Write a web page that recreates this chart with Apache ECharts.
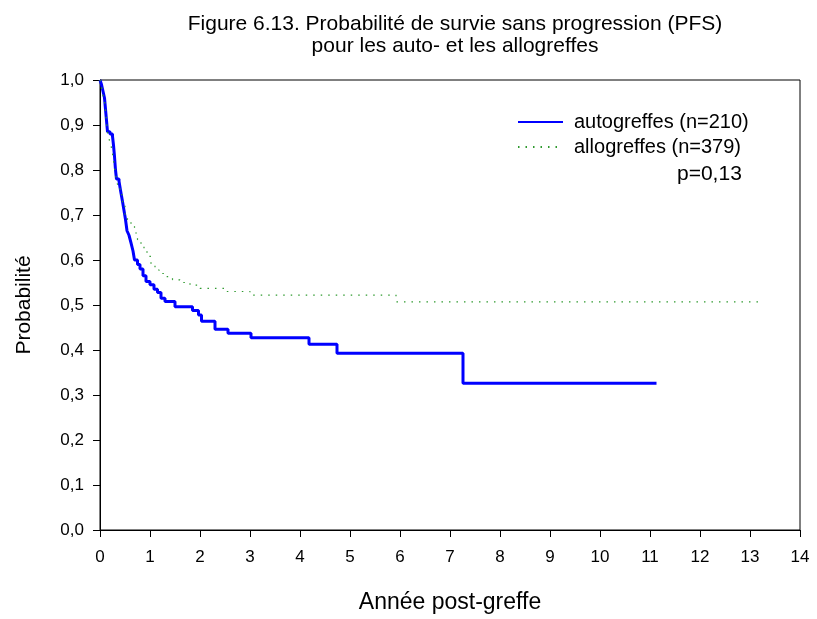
<!DOCTYPE html>
<html>
<head>
<meta charset="utf-8">
<script src="https://cdn.jsdelivr.net/npm/echarts@6/dist/echarts.min.js"></script>
<style>
  html, body { margin: 0; padding: 0; background: #fff; }
  #chart { width: 817px; height: 619px; }
</style>
</head>
<body>
<div id="chart"></div>
<script>
// Kaplan-Meier estimates: [years post-transplant, survival probability]
const autoCurve = [
  [0, 1.0], [0.03, 0.99], [0.06, 0.975], [0.09, 0.96], [0.11, 0.935], [0.13, 0.91],
  [0.15, 0.885], [0.2, 0.88], [0.25, 0.875], [0.27, 0.855], [0.29, 0.83], [0.31, 0.80],
  [0.33, 0.78], [0.38, 0.775], [0.41, 0.755], [0.45, 0.73], [0.48, 0.71], [0.51, 0.69],
  [0.54, 0.665], [0.58, 0.655], [0.62, 0.638], [0.66, 0.62], [0.69, 0.60], [0.75, 0.59],
  [0.8, 0.58], [0.86, 0.565], [0.92, 0.552], [1.0, 0.545], [1.08, 0.535], [1.15, 0.528],
  [1.22, 0.515], [1.3, 0.508], [1.5, 0.496], [1.85, 0.488], [1.97, 0.478], [2.03, 0.464],
  [2.3, 0.446], [2.56, 0.437], [3.02, 0.427], [4.18, 0.413], [4.74, 0.393],
  [7.26, 0.326], [11.13, 0.326]
];
const alloCurve = [
  [0, 1.0], [0.03, 0.985], [0.06, 0.965], [0.09, 0.955], [0.12, 0.92], [0.15, 0.885],
  [0.19, 0.865], [0.22, 0.855], [0.26, 0.83], [0.29, 0.805], [0.32, 0.785], [0.35, 0.768],
  [0.4, 0.745], [0.45, 0.72], [0.5, 0.70], [0.55, 0.69], [0.62, 0.675], [0.69, 0.66],
  [0.75, 0.645], [0.82, 0.632], [0.88, 0.62], [0.94, 0.608], [1.02, 0.59], [1.1, 0.578],
  [1.18, 0.57], [1.3, 0.563], [1.45, 0.556], [1.6, 0.55], [1.8, 0.544], [2.0, 0.537],
  [2.5, 0.53], [3.0, 0.522], [5.92, 0.507], [13.24, 0.507]
];
const seriesNames = ['autogreffes (n=210)', 'allogreffes (n=379)'];
const pValueText = 'p=0,13';
const titleLines = ['Figure 6.13. Probabilité de survie sans progression (PFS)', 'pour les auto- et les allogreffes'];

const FONT = '"Liberation Sans", Arial, sans-serif';
const chart = echarts.init(document.getElementById('chart'), null, { renderer: 'canvas' });

chart.setOption({
  backgroundColor: '#fff',
  animation: false,
  title: {
    text: titleLines.join('\n'),
    left: 450, top: 8, textAlign: 'center',
    textStyle: { fontFamily: FONT, fontSize: 21, fontWeight: 'normal', color: '#000', lineHeight: 22 }
  },
  legend: {
    orient: 'vertical',
    left: 517, top: 112, padding: 0,
    itemWidth: 45, itemHeight: 20, itemGap: 5,
    itemStyle: { opacity: 0 },
    textStyle: { fontFamily: FONT, fontSize: 20, color: '#000', padding: [0, 0, 0, 6] },
    data: seriesNames
  },
  graphic: [{
    type: 'text', left: 677, top: 164,
    style: { text: pValueText, font: '21px ' + FONT, fill: '#000' }
  }],
  grid: {
    left: 100, right: 17, top: 80, bottom: 79,
    show: true, borderColor: '#000', borderWidth: 1, backgroundColor: 'transparent'
  },
  xAxis: {
    type: 'value', min: 0, max: 14, interval: 1,
    name: 'Année post-greffe', nameLocation: 'middle', nameGap: 61,
    nameTextStyle: { fontFamily: FONT, fontSize: 23, color: '#000' },
    axisLine: { show: true, lineStyle: { color: '#000', width: 1 } },
    axisTick: { show: true, inside: false, length: 7, lineStyle: { color: '#000' } },
    axisLabel: { fontFamily: FONT, fontSize: 17, color: '#000', margin: 19 },
    splitLine: { show: false }
  },
  yAxis: {
    type: 'value', min: 0, max: 1, interval: 0.1,
    name: 'Probabilité', nameLocation: 'middle', nameGap: 65, nameRotate: 90,
    nameTextStyle: { fontFamily: FONT, fontSize: 21, color: '#000' },
    axisLine: { show: true, lineStyle: { color: '#000', width: 1 } },
    axisTick: { show: true, inside: false, length: 7, lineStyle: { color: '#000' } },
    axisLabel: {
      fontFamily: FONT, fontSize: 17, color: '#000', margin: 16,
      formatter: v => v.toFixed(1).replace('.', ',')
    },
    splitLine: { show: false }
  },
  series: [
    {
      name: seriesNames[0], type: 'line', step: 'end', data: autoCurve,
      symbol: 'none', z: 3,
      lineStyle: { color: '#0000ff', width: 3 },
      itemStyle: { color: '#0000ff' }
    },
    {
      name: seriesNames[1], type: 'line', step: 'end', data: alloCurve,
      symbol: 'none', z: 4,
      lineStyle: { color: '#2f9a2f', width: 1.2, type: [1.5, 6] },
      itemStyle: { color: '#2f9a2f' }
    }
  ]
});
</script>
</body>
</html>
